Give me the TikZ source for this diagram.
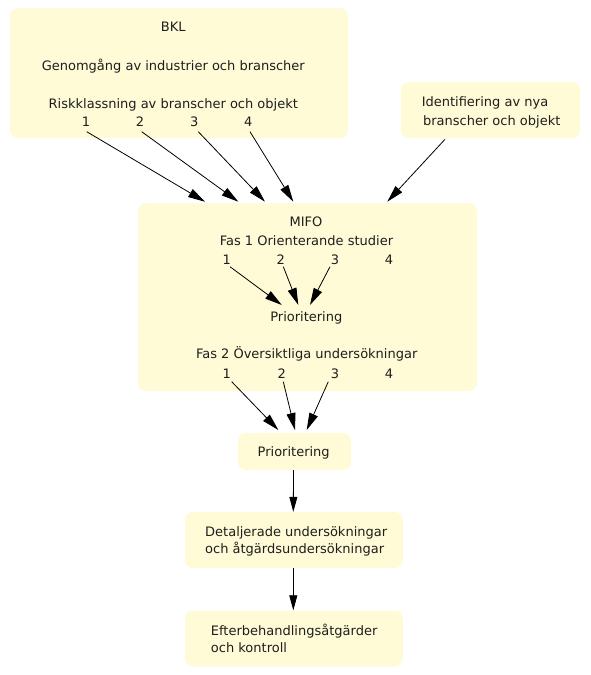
\documentclass[tikz,border=0pt]{standalone}
\usepackage{fontspec}
\setmainfont{DejaVu Sans}
\usetikzlibrary{arrows.meta}
\definecolor{boxfill}{RGB}{254,251,214}
\definecolor{txt}{RGB}{30,30,30}
\tikzset{
  box/.style={fill=boxfill, rounded corners=8pt, inner sep=0pt, draw=none},
  lbl/.style={anchor=base, inner sep=0pt, text=txt, font=\fontsize{13}{16}\selectfont},
  lbll/.style={lbl, anchor=base west},
  arr/.style={draw=black, line width=0.8pt, -{Triangle[length=17pt,width=9pt]}},
  varr/.style={draw=black, line width=0.8pt, -{Triangle[length=15pt,width=8pt]}}
}
\begin{document}
\begin{tikzpicture}[x=1pt,y=-1pt]
\useasboundingbox (0,0) rectangle (591,675);
% boxes
\node[box, minimum width=338pt, minimum height=130pt] (bkl) at (179,73) {};
\node[box, minimum width=179pt, minimum height=56pt] (ident) at (490.5,110) {};
\node[box, minimum width=339pt, minimum height=188pt] (mifo) at (307.5,297) {};
\node[box, minimum width=113pt, minimum height=37pt] (prio) at (294.5,451.5) {};
\node[box, minimum width=218pt, minimum height=56pt] (det) at (294,540) {};
\node[box, minimum width=218pt, minimum height=56pt] (eft) at (294,638.5) {};
% BKL texts
\node[lbl] (bkltitle) at (173.3,31.7) {BKL};
\node[lbl] (genom) at (173.3,70.7) {Genomgång av industrier och branscher};
\node[lbl] (risk) at (173.3,108.3) {Riskklassning av branscher och objekt};
\node[lbl] (b1) at (86,126.7) {1};
\node[lbl] (b2) at (140,126.7) {2};
\node[lbl] (b3) at (194.3,126.7) {3};
\node[lbl] (b4) at (248.3,126.7) {4};
% identifiering
\node[lbl] (id1) at (485,106.7) {Identifiering av nya};
\node[lbl] (id2) at (491.7,125.3) {branscher och objekt};
% MIFO texts
\node[lbl] (mifotitle) at (306,226) {MIFO};
\node[lbl] (fas1) at (306.5,245) {Fas 1 Orienterande studier};
\node[lbl] (f1a) at (226.7,264) {1};
\node[lbl] (f1b) at (280.7,264) {2};
\node[lbl] (f1c) at (335,264) {3};
\node[lbl] (f1d) at (389,264) {4};
\node[lbl] (prioin) at (306.3,321) {Prioritering};
\node[lbl] (fas2) at (306.7,358.3) {Fas 2 Översiktliga undersökningar};
\node[lbl] (f2a) at (226.7,378.3) {1};
\node[lbl] (f2b) at (281.7,378.3) {2};
\node[lbl] (f2c) at (335,378.3) {3};
\node[lbl] (f2d) at (389,378.3) {4};
% lower texts
\node[lbl] (priotxt) at (293.7,456.7) {Prioritering};
\node[lbll] (det1) at (205,536.7) {Detaljerade undersökningar};
\node[lbll] (det2) at (205,553.7) {och åtgärdsundersökningar};
\node[lbll] (eft1) at (210.7,635) {Efterbehandlingsåtgärder};
\node[lbll] (eft2) at (210.7,652.3) {och kontroll};
% target coordinates
\coordinate (t1) at (205,201.7);
\coordinate (t2) at (238.3,201.7);
\coordinate (t3) at (265,201.7);
\coordinate (t4) at (293.3,201.7);
\coordinate (t5) at (387.3,201.7);
\coordinate (s5) at (445,139.3);
\coordinate (p1) at (281.7,305);
\coordinate (p2) at (298.3,305);
\coordinate (p3) at (310,305);
\coordinate (q1) at (278.3,430);
\coordinate (q2) at (295,430);
\coordinate (q3) at (306.7,430);
% arrows
\draw[arr] ([shift={(0.7,5)}]b1.base) -- (t1);
\draw[arr] ([shift={(1.7,5)}]b2.base) -- (t2);
\draw[arr] ([shift={(4,5)}]b3.base) -- (t3);
\draw[arr] ([shift={(1.7,5)}]b4.base) -- (t4);
\draw[arr] (s5) -- (t5);
\draw[arr] ([shift={(3.3,2.7)}]f1a.base) -- (p1);
\draw[arr] ([shift={(2.6,2.7)}]f1b.base) -- (p2);
\draw[arr] ([shift={(-5,2.7)}]f1c.base) -- (p3);
\draw[arr] ([shift={(5,3.4)}]f2a.base) -- (q1);
\draw[arr] ([shift={(1.6,3.4)}]f2b.base) -- (q2);
\draw[arr] ([shift={(-6.7,3.4)}]f2c.base) -- (q3);
\draw[varr] ([xshift=-1pt]prio.south) -- ([xshift=-0.7pt]det.north);
\draw[varr] ([xshift=-0.7pt]det.south) -- ([xshift=-0.7pt]eft.north);
\end{tikzpicture}
\end{document}
